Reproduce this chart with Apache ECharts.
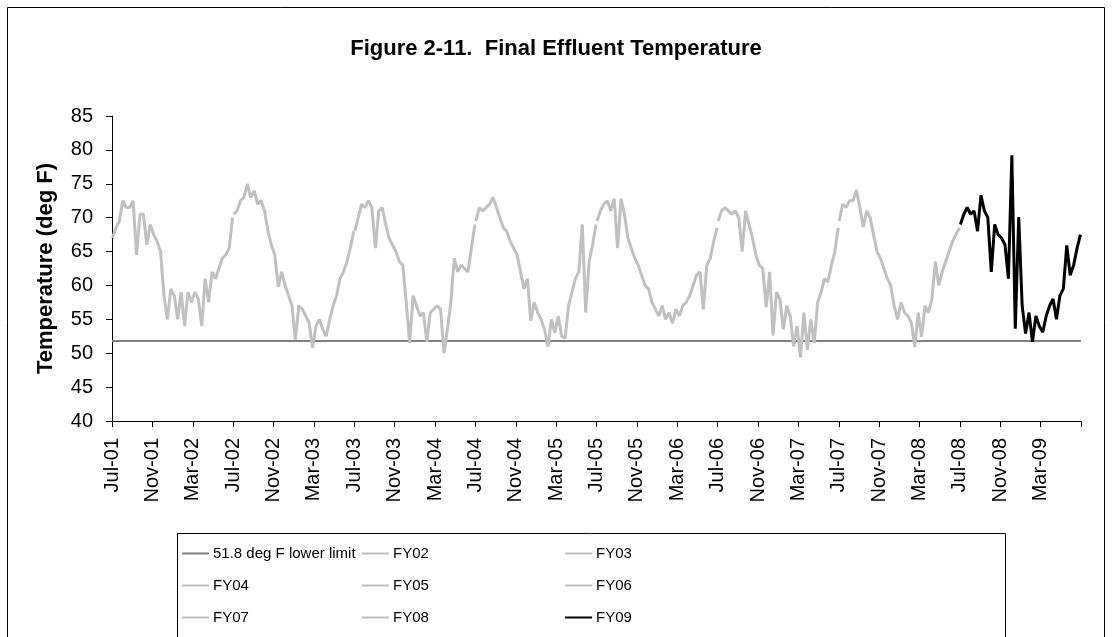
<!DOCTYPE html>
<html>
<head>
<meta charset="utf-8">
<script src="https://cdn.jsdelivr.net/npm/echarts@6/dist/echarts.min.js"></script>
<style>
  html, body { margin: 0; padding: 0; background: #fff; }
  #main { width: 1112px; height: 637px; }
</style>
</head>
<body>
<div id="main"></div>
<script>
// tick labels every 4 months, Jul-01 .. Mar-09 (month 0 = Jul 2001)
var tickLabels = ['Jul-01', 'Nov-01', 'Mar-02', 'Jul-02', 'Nov-02', 'Mar-03', 'Jul-03', 'Nov-03',
    'Mar-04', 'Jul-04', 'Nov-04', 'Mar-05', 'Jul-05', 'Nov-05', 'Mar-06', 'Jul-06', 'Nov-06',
    'Mar-07', 'Jul-07', 'Nov-07', 'Mar-08', 'Jul-08', 'Nov-08', 'Mar-09'];
var lowerLimit = 51.8;

// read roughly three values a month (Jul..Jun of each fiscal year)
var fy02 = [67, 68.5, 69.5, 72.5, 71.5, 71.5, 72.5, 64.5, 70.5, 70.5, 66, 69, 67.5, 66.5, 65, 58.5, 55, 59.5,
    58.5, 55, 59, 54, 59, 57.5, 59, 58, 54, 61, 57.5, 62, 61, 62.5, 64, 64.5, 65.5, 70];
var fy03 = [70.5, 71, 72.5, 73, 75, 73, 74, 72, 72.5, 71, 68, 66, 64.5, 59.8, 62, 60, 58.5, 57,
    52, 57, 56.5, 55.5, 54.5, 50.8, 54, 55, 53.5, 52.5, 55, 57, 58.5, 61, 62, 63.5, 65.5, 68];
var fy04 = [68, 70, 72, 71.5, 72.5, 71.5, 65.5, 71, 71.5, 69, 67, 66, 65, 63.5, 63, 57.5, 51.5, 58.5,
    57, 55.5, 56, 51.7, 56, 56.5, 57, 56.5, 50, 53.5, 57.5, 64, 62, 63, 62.5, 62, 65.5, 69];
var fy05 = [69.5, 71.5, 71, 71.5, 72, 73, 71.5, 70, 68.5, 68, 66.5, 65.5, 64.5, 62, 59.5, 61, 54.8, 57.5,
    56, 55, 53.5, 51, 55, 53, 55.5, 52.5, 52.2, 57, 59, 61, 62, 69, 56, 63.5, 66, 69];
var fy06 = [69.5, 71, 72, 72.5, 71, 72.8, 65.5, 72.8, 70.5, 67, 65.5, 64, 63, 61.5, 60, 59.5, 57.5, 56.5,
    55.5, 57, 55, 56, 54.4, 56.5, 55.5, 57, 57.5, 58.5, 60, 61.5, 62, 56.5, 63, 64, 66.5, 68.5];
var fy07 = [69.5, 71, 71.5, 71, 70.5, 71, 70, 65, 71, 69, 67, 64.5, 63, 62.5, 56.8, 62, 52.6, 59,
    58, 53.5, 57, 55.5, 51, 54, 49.4, 56, 50.5, 55, 51.5, 57.5, 59, 61, 60.5, 63, 65, 68.5];
var fy08 = [69.5, 72, 71.5, 72.5, 72.5, 74.1, 71.5, 68.6, 71, 70, 67.5, 65, 64, 62.5, 61, 60, 57, 55,
    57.5, 56, 55.5, 54.5, 50.9, 56, 52.4, 57, 56, 58, 63.5, 60, 62, 63.5, 65, 66.5, 67.5, 68.5];
var fy09 = [69, 70.5, 71.5, 70.5, 71, 68, 73.3, 71, 70, 62, 69, 67.5, 67, 66, 61, 79.2, 53.6, 70.1,
    57, 52.9, 56, 51.7, 55.5, 54, 53.1, 55.5, 57, 58, 55, 58.5, 59.5, 65.9, 61.5, 63, 65.5, 67.5];

var fyNames = ['FY02', 'FY03', 'FY04', 'FY05', 'FY06', 'FY07', 'FY08', 'FY09'];
var fyData = [fy02, fy03, fy04, fy05, fy06, fy07, fy08, fy09];

// spread a fiscal year's readings over its 12 months
function toPoints(vals, fyIndex) {
    var start = fyIndex * 12;
    return vals.map(function (v, i) {
        return [start + 0.05 + i * 11.9 / (vals.length - 1), v];
    });
}

var font = 'Arial, "Liberation Sans", sans-serif';

var series = [{
    name: '51.8 deg F lower limit',
    type: 'line',
    symbol: 'none',
    silent: true,
    lineStyle: { color: '#808080', width: 2 },
    itemStyle: { color: '#808080' },
    data: [[0, lowerLimit], [96, lowerLimit]]
}];
fyNames.forEach(function (name, i) {
    var c = name === 'FY09' ? '#000000' : '#c0c0c0';
    series.push({
        name: name,
        type: 'line',
        symbol: 'none',
        lineStyle: { color: c, width: 3 },
        itemStyle: { color: c },
        data: toPoints(fyData[i], i)
    });
});

function legendCol(left, names) {
    return {
        orient: 'vertical',
        left: left,
        top: 546,
        padding: 0,
        icon: 'rect',
        itemWidth: 27,
        itemHeight: 2,
        itemGap: 17,
        selectedMode: false,
        textStyle: { fontFamily: font, fontSize: 15, color: '#000', padding: [0, 0, 0, -1] },
        data: names
    };
}

var chart = echarts.init(document.getElementById('main'));
chart.setOption({
    animation: false,
    backgroundColor: '#fff',
    title: {
        text: 'Figure 2-11.  Final Effluent Temperature',
        left: 'center',
        top: 33,
        textStyle: { fontFamily: font, fontSize: 22, fontWeight: 'bold', color: '#000' }
    },
    graphic: [
        { type: 'rect', shape: { x: 7.5, y: 7.5, width: 1097, height: 640 }, style: { fill: null, stroke: '#000', lineWidth: 1 } },
        { type: 'rect', shape: { x: 177.5, y: 533.5, width: 828, height: 110 }, style: { fill: null, stroke: '#000', lineWidth: 1 } }
    ],
    legend: [
        legendCol(182, ['51.8 deg F lower limit', 'FY04', 'FY07']),
        legendCol(362, ['FY02', 'FY05', 'FY08']),
        legendCol(565, ['FY03', 'FY06', 'FY09'])
    ],
    grid: { left: 112, right: 31, top: 116, bottom: 216 },
    xAxis: {
        type: 'value',
        min: 0,
        max: 96,
        interval: 4,
        splitLine: { show: false },
        axisLine: { lineStyle: { color: '#000' } },
        axisTick: { inside: false, length: 6, lineStyle: { color: '#000' } },
        axisLabel: {
            rotate: 90,
            margin: 17,
            fontFamily: font,
            fontSize: 20,
            color: '#000',
            formatter: function (v) { return tickLabels[v / 4] || ''; }
        }
    },
    yAxis: {
        type: 'value',
        min: 40,
        max: 85,
        interval: 5,
        name: 'Temperature (deg F)',
        nameLocation: 'middle',
        nameRotate: 90,
        nameGap: 55,
        nameTextStyle: { fontFamily: font, fontSize: 22, fontWeight: 'bold', color: '#000' },
        splitLine: { show: false },
        axisLine: { show: true, lineStyle: { color: '#000' } },
        axisTick: { show: true, length: 6, lineStyle: { color: '#000' } },
        axisLabel: { margin: 19, fontFamily: font, fontSize: 20, color: '#000' }
    },
    series: series
});
</script>
</body>
</html>
